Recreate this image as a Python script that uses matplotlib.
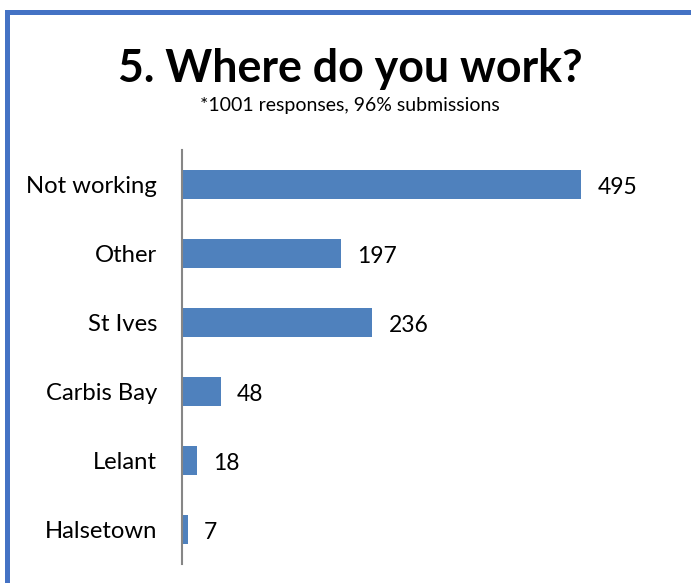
import matplotlib.pyplot as plt
from matplotlib.patches import Rectangle

categories = ["Not working", "Other", "St Ives", "Carbis Bay", "Lelant", "Halsetown"]
counts = [495, 197, 236, 48, 18, 7]
title = "5. Where do you work?"
subtitle = "*1001 responses, 96% submissions"

W, H = 691, 583
fig = plt.figure(figsize=(W / 100, H / 100), dpi=100)
plt.rcParams['font.family'] = ['Lato', 'DejaVu Sans']

# frame around the chart area
fig.add_artist(Rectangle((6.5 / W, -0.1), 1.2, (H - 12.5) / H + 0.1,
                         transform=fig.transFigure, fill=False,
                         edgecolor='#4472C4', linewidth=3.6))

ax_left, ax_right = 182, 666
ax_top, ax_bottom = 150, 564
ax = fig.add_axes([ax_left / W, 1 - ax_bottom / H,
                   (ax_right - ax_left) / W, (ax_bottom - ax_top) / H])

y = list(range(len(categories)))
ax.barh(y, counts, height=0.41, color='#4F81BD', zorder=2)
ax.set_xlim(0, 600)
ax.set_ylim(len(categories) - 0.5, -0.5)

for yi, v in zip(y, counts):
    ax.text(v + 20, yi + 0.04, str(v), va='center', ha='left', fontsize=16.5, color='black')

ax.set_yticks(y)
ax.set_yticklabels(categories, fontsize=17.2)
ax.tick_params(axis='y', length=0, pad=18)
ax.set_xticks([])
for s in ['top', 'right', 'bottom']:
    ax.spines[s].set_visible(False)
ax.spines['left'].set_color('#868686')
ax.spines['left'].set_linewidth(1.5)

fig.text(350 / W, 1 - 69 / H, title, ha='center', va='center',
         fontsize=32.2, fontweight='bold')
fig.text(350 / W, 1 - 105 / H, subtitle, ha='center', va='center', fontsize=14)

fig.savefig('out.png', dpi=100)
